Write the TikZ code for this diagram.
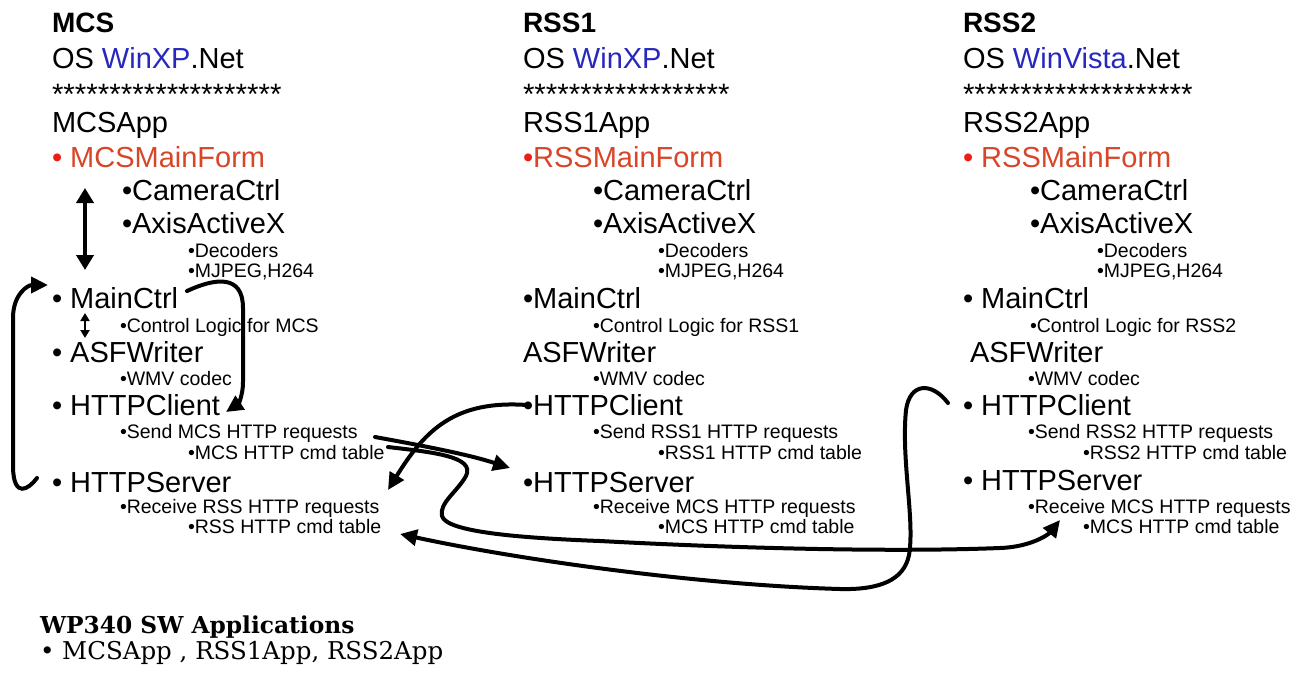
\documentclass[tikz,border=0pt]{standalone}
\usepackage{fontspec}
\setmainfont{Liberation Sans}
\newfontfamily\slabfont{DejaVu Serif}
\usetikzlibrary{arrows.meta}
\definecolor{osblue}{RGB}{40,40,190}
\definecolor{formred}{RGB}{215,70,40}
\definecolor{dotred}{RGB}{235,30,20}

\begin{document}
\begin{tikzpicture}[x=1pt,y=-1pt,
  txt/.style={anchor=base west, inner sep=0pt, outer sep=0pt},
  big/.style={txt, font=\fontsize{29}{31}\selectfont},
  small/.style={txt, font=\fontsize{19.5}{21}\selectfont},
  head/.style={txt, font=\bfseries\fontsize{28}{30}\selectfont},
  starrow/.style={txt, font=\fontsize{29.5}{31}\selectfont},
  form/.style={big, text=formred},
  foot/.style={txt, font=\slabfont\fontsize{24.5}{26}\selectfont},
  foothead/.style={txt, font=\slabfont\bfseries\fontsize{23.3}{25}\selectfont},
  link/.style={line width=4pt, line cap=round, -{Triangle[length=17pt,width=16pt]}},
  twoway/.style={line width=4.5pt, {Triangle[length=15pt,width=17pt]}-{Triangle[length=15pt,width=17pt]}},
  twowaysmall/.style={line width=2.5pt, {Triangle[length=8pt,width=9pt]}-{Triangle[length=8pt,width=9pt]}}
]
\useasboundingbox[fill=white] (0,0) rectangle (1316,675);

% ---------------- MCS ----------------
\node[head]  (mcsTitle)  at (52,32)  {MCS};
\node[big]   (mcsOS)     at (52,68)  {OS \textcolor{osblue}{WinXP}.Net};
\node[starrow] (mcsStars) at (52,104) {********************};
\node[big]   (mcsApp)    at (52,132) {MCSApp};
\node[form]  (mcsForm)   at (52,167) {\textcolor{dotred}{•} MCSMainForm};
\node[big]   (mcsCam)    at (122,200) {•CameraCtrl};
\node[big]   (mcsAxis)   at (122,233) {•AxisActiveX};
\node[small] (mcsDec)    at (188,257) {•Decoders};
\node[small] (mcsCodec)  at (188,277) {•MJPEG,H264};
\node[big]   (mcsMain)   at (52,308) {• MainCtrl};
\node[small] (mcsLogic)  at (120,332) {•Control Logic for MCS};
\node[big]   (mcsASF)    at (52,362) {• ASFWriter};
\node[small] (mcsWMV)    at (120,385) {•WMV codec};
\node[big]   (mcsClient) at (52,415) {• HTTPClient};
\node[small] (mcsSend)   at (120,438) {•Send MCS HTTP requests};
\node[small] (mcsCmdC)   at (188,459) {•MCS HTTP cmd table};
\node[big]   (mcsServer) at (52,492) {• HTTPServer};
\node[small] (mcsRecv)   at (120,513) {•Receive RSS HTTP requests};
\node[small] (mcsCmdS)   at (188,533) {•RSS HTTP cmd table};

% ---------------- RSS1 ----------------
\node[head]  (aTitle)  at (523,32)  {RSS1};
\node[big]   (aOS)     at (523,68)  {OS \textcolor{osblue}{WinXP}.Net};
\node[starrow] (aStars) at (523,104) {******************};
\node[big]   (aApp)    at (523,132) {RSS1App};
\node[form]  (aForm)   at (523,167) {\textcolor{dotred}{•}RSSMainForm};
\node[big]   (aCam)    at (593,200) {•CameraCtrl};
\node[big]   (aAxis)   at (593,233) {•AxisActiveX};
\node[small] (aDec)    at (658,257) {•Decoders};
\node[small] (aCodec)  at (658,277) {•MJPEG,H264};
\node[big]   (aMain)   at (523,308) {•MainCtrl};
\node[small] (aLogic)  at (593,332) {•Control Logic for RSS1};
\node[big]   (aASF)    at (523,362) {ASFWriter};
\node[small] (aWMV)    at (593,385) {•WMV codec};
\node[big]   (aClient) at (523,415) {•HTTPClient};
\node[small] (aSend)   at (593,438) {•Send RSS1 HTTP requests};
\node[small] (aCmdC)   at (658,459) {•RSS1 HTTP cmd table};
\node[big]   (aServer) at (523,492) {•HTTPServer};
\node[small] (aRecv)   at (593,513) {•Receive MCS HTTP requests};
\node[small] (aCmdS)   at (658,533) {•MCS HTTP cmd table};

% ---------------- RSS2 ----------------
\node[head]  (bTitle)  at (963,32)  {RSS2};
\node[big]   (bOS)     at (963,68)  {OS \textcolor{osblue}{WinVista}.Net};
\node[starrow] (bStars) at (963,104) {********************};
\node[big]   (bApp)    at (963,132) {RSS2App};
\node[form]  (bForm)   at (963,167) {\textcolor{dotred}{•} RSSMainForm};
\node[big]   (bCam)    at (1030,200) {•CameraCtrl};
\node[big]   (bAxis)   at (1030,233) {•AxisActiveX};
\node[small] (bDec)    at (1097,257) {•Decoders};
\node[small] (bCodec)  at (1097,277) {•MJPEG,H264};
\node[big]   (bMain)   at (963,308) {• MainCtrl};
\node[small] (bLogic)  at (1030,332) {•Control Logic for RSS2};
\node[big]   (bASF)    at (970,362) {ASFWriter};
\node[small] (bWMV)    at (1028,385) {•WMV codec};
\node[big]   (bClient) at (963,415) {• HTTPClient};
\node[small] (bSend)   at (1028,438) {•Send RSS2 HTTP requests};
\node[small] (bCmdC)   at (1083,459) {•RSS2 HTTP cmd table};
\node[big]   (bServer) at (963,490) {• HTTPServer};
\node[small] (bRecv)   at (1028,513) {•Receive MCS HTTP requests};
\node[small] (bCmdS)   at (1083,533) {•MCS HTTP cmd table};

% ---------------- footer ----------------
\node[foothead] (footTitle) at (40,633) {WP340 SW Applications};
\node[foot] (footApps) at (40,659) {• MCSApp , RSS1App, RSS2App};

% ---------------- connector ends ----------------
\coordinate (formLow)    at (85,188);
\coordinate (mainHigh)   at (85,270);
\coordinate (mainLow)    at (85,313);
\coordinate (asfHigh)    at (85,338);
\coordinate (srvLeft)    at (37,478);
\coordinate (mainLeft)   at (48,285);
\coordinate (mainRight)  at (187,291);
\coordinate (clientEnd)  at (226,412);
\coordinate (sendEnd)    at (375,437);
\coordinate (aSrvIn)     at (510,468);
\coordinate (cmdEnd)     at (388,447);
\coordinate (bSrvIn)     at (1060,520);
\coordinate (aCliDot)    at (527,405);
\coordinate (mcsSrvIn)   at (388,490);
\coordinate (bCliDot)    at (948,403);
\coordinate (mcsCmdIn)   at (400,534);

% ---------------- connectors ----------------
\draw[twoway] (formLow) -- (mainHigh);
\draw[twowaysmall] (mainLow) -- (asfHigh);

% HTTPServer back up to MainCtrl
\draw[link] (srvLeft) .. controls (28,490) and (14,498) .. (13,468)
  -- (13,318) .. controls (13,294) and (28,285) .. (mainLeft);

% MainCtrl down to HTTPClient
\draw[link] (mainRight) .. controls (215,278) and (243,274) .. (243,308)
  -- (243,382) .. controls (243,396) and (238,404) .. (clientEnd);

% MCS requests to RSS1 HTTPServer
\draw[link] (sendEnd) .. controls (430,447) and (470,455) .. (aSrvIn);

% MCS requests to RSS2 HTTPServer
\draw[link] (cmdEnd) .. controls (430,452) and (476,456) .. (466,476)
  .. controls (457,492) and (439,503) .. (442,516)
  .. controls (446,532) and (520,538) .. (600,541)
  .. controls (750,549) and (900,552) .. (1000,548)
  .. controls (1030,547) and (1048,535) .. (bSrvIn);

% RSS1 HTTPClient to MCS HTTPServer
\draw[link] (aCliDot) .. controls (455,400) and (425,430) .. (mcsSrvIn);

% RSS2 HTTPClient to MCS HTTPServer
\draw[link] (bCliDot) .. controls (932,382) and (910,382) .. (906,410)
  .. controls (901,460) and (915,520) .. (909,555)
  .. controls (904,580) and (880,590) .. (840,589)
  .. controls (700,585) and (520,560) .. (mcsCmdIn);

\end{tikzpicture}
\end{document}
